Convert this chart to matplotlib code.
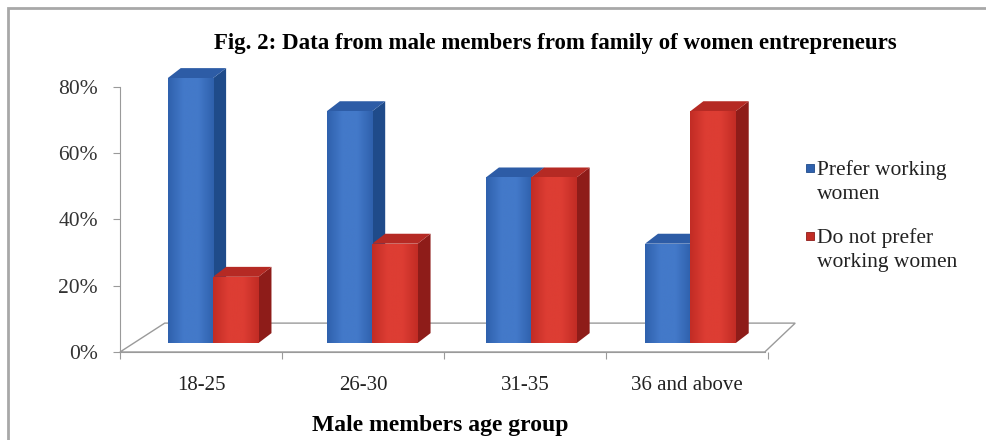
import matplotlib.pyplot as plt
from matplotlib.patches import Polygon, Rectangle
from matplotlib.colors import LinearSegmentedColormap
import numpy as np

# data
groups = ["18-25", "26-30", "31-35", "36 and above"]
prefer = [80, 70, 50, 30]
not_prefer = [20, 30, 50, 70]
series_names = ["Prefer working\nwomen", "Do not prefer\nworking women"]
yticks = [0, 20, 40, 60, 80]
title = "Fig. 2: Data from male members from family of women entrepreneurs"
xlabel = "Male members age group"

# colours: front (light, dark), side, top
blue = ("#4379c9", "#2f61ad", "#1f4b8a", "#2d5ca6")
red = ("#dd3d33", "#c22c25", "#8e1c19", "#b52a24")

plt.rcParams['font.family'] = ['Liberation Serif', 'DejaVu Serif']

W, H = 987, 440
fig = plt.figure(figsize=(W / 100, H / 100), dpi=100)
fig.patch.set_facecolor("white")

# outer frame
fig.patches.append(Rectangle((8 / W, -0.1), 1.2, 1 - 8 / H + 0.1, transform=fig.transFigure,
                             fill=False, edgecolor="#a8a8a8", linewidth=2))

# axes: left x=120, right x=768, 0% at y=352, 80% at y=87 (room above for bar tops)
ymax = 90
ax = fig.add_axes([120 / W, (H - 352) / H, 648 / W, 265 * ymax / 80 / H])
ax.patch.set_alpha(0)

# floor
fh = 0.109 * 80 / ymax
floor = Polygon([(0, 0), (0.995, 0), (1.042, fh), (0.069, fh)], closed=True,
                transform=ax.transAxes, facecolor="white", edgecolor="#9a9a9a",
                linewidth=1, clip_on=False, zorder=1)
ax.add_patch(floor)

dx, dy = 0.08, 3.0
base = 2.7
bw = 0.28


def bar3d(x0, v, cols):
    y0, y1 = base, base + v
    x1 = x0 + bw
    side = Polygon([(x1, y0), (x1 + dx, y0 + dy), (x1 + dx, y1 + dy), (x1, y1)],
                   facecolor=cols[2], edgecolor="none", zorder=3)
    top = Polygon([(x0, y1), (x0 + dx, y1 + dy), (x1 + dx, y1 + dy), (x1, y1)],
                  facecolor=cols[3], edgecolor="none", zorder=3)
    ax.add_patch(side)
    ax.add_patch(top)
    b = ax.bar(x0, v, bw, bottom=y0, align="edge", color=cols[1], zorder=3)[0]
    cmap = LinearSegmentedColormap.from_list("g", [cols[1], cols[0], cols[0], cols[1]])
    im = ax.imshow(np.linspace(0, 1, 64).reshape(1, -1), cmap=cmap, aspect="auto",
                   extent=(x0, x1, y0, y1), zorder=3.1, interpolation="bilinear")
    im.set_clip_path(b)


for i in range(len(groups)):
    xj = i + 0.575 - 0.018 * i  # slight perspective drift
    bar3d(xj - bw, prefer[i], blue)
    bar3d(xj, not_prefer[i], red)

ax.set_xlim(0, 4)
ax.set_ylim(0, ymax)

for s in ["top", "right"]:
    ax.spines[s].set_visible(False)
ax.spines["left"].set_color("#9a9a9a")
ax.spines["left"].set_bounds(0, 80)
ax.spines["bottom"].set_color("#9a9a9a")
ax.spines["bottom"].set_bounds(0, 0.995 * 4)

ax.set_yticks(yticks)
ax.set_yticklabels([f"{t}%" for t in yticks])
ax.set_xticks(np.arange(len(groups) + 1))
ax.set_xticklabels([])
ax.set_xticks(np.arange(len(groups)) + 0.5, minor=True)
ax.set_xticklabels(groups, minor=True)
ax.tick_params(axis="x", which="major", direction="out", length=5, color="#9a9a9a")
ax.tick_params(axis="x", which="minor", length=0, pad=17, labelsize=15, labelcolor="#222222")
ax.tick_params(axis="y", direction="out", length=5, color="#9a9a9a", pad=11,
               labelsize=15.5, labelcolor="#333333")

fig.text(440 / W, 1 - 425 / H, xlabel, ha="center", va="center", fontsize=17, fontweight="bold")
fig.text(555 / W, 1 - 44 / H, title, ha="center", va="center", fontsize=16.5, fontweight="bold")

# legend
for k, (name, cols) in enumerate(zip(series_names, [blue, red])):
    yc = 182 + 68 * k
    ys = 168 + 68 * k
    fig.patches.append(Rectangle((806 / W, 1 - (ys + 4) / H), 8 / W, 8 / H,
                                 transform=fig.transFigure, facecolor=cols[1],
                                 edgecolor=cols[2], linewidth=0.6))
    fig.text(817 / W, 1 - yc / H, name, ha="left", va="center", fontsize=15.5,
             color="#222222", linespacing=1.3)

fig.savefig("out.png", dpi=100)
